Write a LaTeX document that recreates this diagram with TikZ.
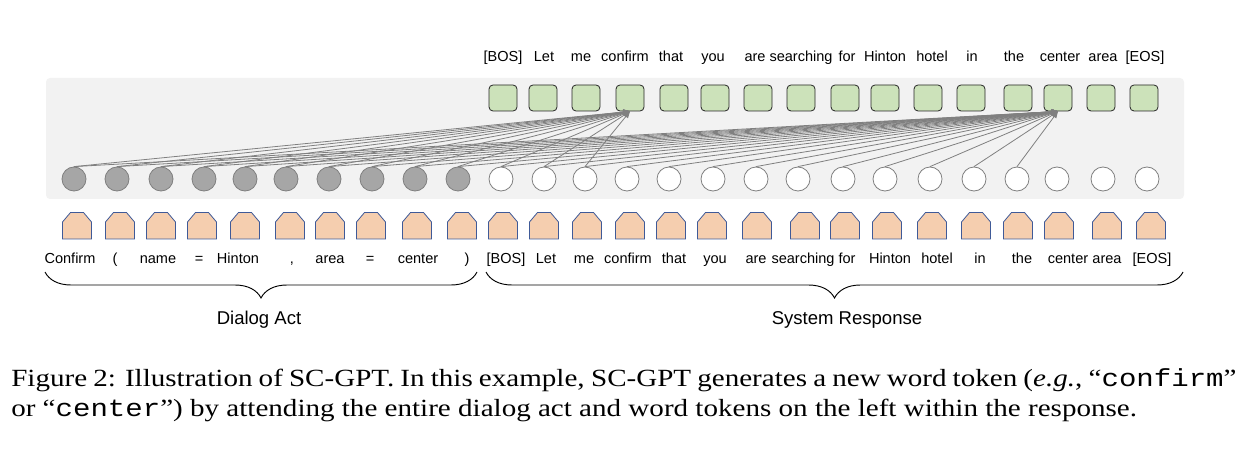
\documentclass[tikz,border=0pt]{standalone}
\usepackage{fontspec}
\setmainfont{Liberation Serif}
\setsansfont{Liberation Sans}
\setmonofont{Liberation Mono}
\usetikzlibrary{arrows.meta,decorations.pathreplacing}
\definecolor{bgcol}{HTML}{F2F2F2}
\definecolor{gfill}{HTML}{CCE2BA}
\definecolor{gedge}{HTML}{262626}
\definecolor{pfill}{HTML}{F5CEAF}
\definecolor{pedge}{HTML}{3F5A98}
\definecolor{dfill}{HTML}{A6A6A6}
\definecolor{cedge}{HTML}{7F7F7F}
\definecolor{lcol}{HTML}{808080}
\begin{document}
\begin{tikzpicture}[x=0.75pt,y=-0.75pt,
  darkdot/.style={circle,draw=cedge,fill=dfill,line width=0.6pt,minimum size=18pt,inner sep=0},
  whitedot/.style={circle,draw=cedge,fill=white,line width=0.6pt,minimum size=18pt,inner sep=0},
  gbox/.style={rectangle,rounded corners=3pt,draw=gedge,fill=gfill,line width=0.6pt,minimum width=21pt,minimum height=19.5pt,inner sep=0},
  pent/.style={draw=pedge,fill=pfill,line width=0.6pt},
  tok/.style={font=\fontsize{10.9}{13}\sffamily\selectfont,inner sep=0,anchor=center},
  att/.style={draw=lcol,line width=0.6pt,-{Triangle[length=5pt,width=4pt]}},
  brc/.style={decorate,decoration={brace,mirror,amplitude=19.5pt},draw=black,line width=0.7pt},
  grp/.style={font=\fontsize{13.9}{16}\sffamily\selectfont,inner sep=0,anchor=center},
  captxt/.style={font=\fontsize{21.8}{26}\selectfont,inner sep=0,anchor=base west}]
\useasboundingbox (0,0) rectangle (1248,452);
\fill[bgcol,rounded corners=3pt] (46,78) rectangle (1184,199);
% circles
\foreach \x [count=\i] in {74,117,161,204,245,286,329,372,415,458}
  \node[darkdot] (c\i) at (\x,179) {};
\foreach \x [count=\i] in {501,544,585,627,669,713,756,798,843,885,930,974,1017,1057,1103,1147}
  \node[whitedot] (w\i) at (\x,179) {};
% green boxes
\foreach \x [count=\i] in {503,543,586,630,674,715,758,801,845,885,928,971,1018,1058,1101,1144}
  \node[gbox] (g\i) at (\x,98) {};
% pentagons
\foreach \x in {77,120,161,202,245,290,330,371,417,462,503,544,587,630,671,712,757,805,845,887,932,976,1018,1059,1107,1151}
  \draw[pent] (\x-14.5,239) -- (\x-14.5,222) -- (\x-6.5,212.5) -- (\x+6.5,212.5) -- (\x+14.5,222) -- (\x+14.5,239) -- cycle;
% top labels
\foreach \x/\t [count=\i] in {503/{[BOS]},544/{Let},581/{me},625/{confirm},671/{that},713/{you},755/{are},801/{searching},847/{for},885/{Hinton},932/{hotel},972/{in},1014/{the},1060/{center},1103/{area},1145/{[EOS]}}
  \node[tok] (t\i) at (\x,58) {\strut\t};
% bottom labels
\foreach \x/\t [count=\i] in {70/{Confirm},115/{(},158/{name},199/{=},238/{Hinton},292/{,},330/{area},370/{=},418/{center},467/{)},506/{[BOS]},546/{Let},584/{me},628/{confirm},674/{that},715/{you},756/{are},803/{searching},847/{for},890/{Hinton},937/{hotel},980/{in},1022/{the},1068/{center},1107/{area},1152/{[EOS]}}
  \node[tok] (b\i) at (\x,260) {\strut\t};
% attention connectors
\foreach \i in {1,...,10} {
  \draw[att] (c\i.north) -- (g4.south);
  \draw[att] (c\i.north) -- (g14.south);
}
\foreach \i in {1,2,3} \draw[att] (w\i.north) -- (g4.south);
\foreach \i in {1,...,13} \draw[att] (w\i.north) -- (g14.south);
% braces
\coordinate (da1) at (45,272);
\coordinate (da2) at (477,272);
\coordinate (sr1) at (486,272);
\coordinate (sr2) at (1183,272);
\draw[brc] (da1) -- (da2);
\draw[brc] (sr1) -- (sr2);
\node[grp] (dact) at (259,320) {Dialog Act};
\node[grp] (sresp) at (847,320) {System Response};
% caption
\node[captxt] (cap1) at (11,386.7) {\scalebox{1}[0.85]{\makebox[919pt][s]{Figure 2: Illustration of SC-GPT. In this example, SC-GPT generates a new word token (\textit{e.g.}, “\texttt{confirm}”}}};
\node[captxt] (cap2) at (11,416.7) {\scalebox{1}[0.85]{or “\texttt{center}”) by attending the entire dialog act and word tokens on the left within the response.}};
\end{tikzpicture}
\end{document}
